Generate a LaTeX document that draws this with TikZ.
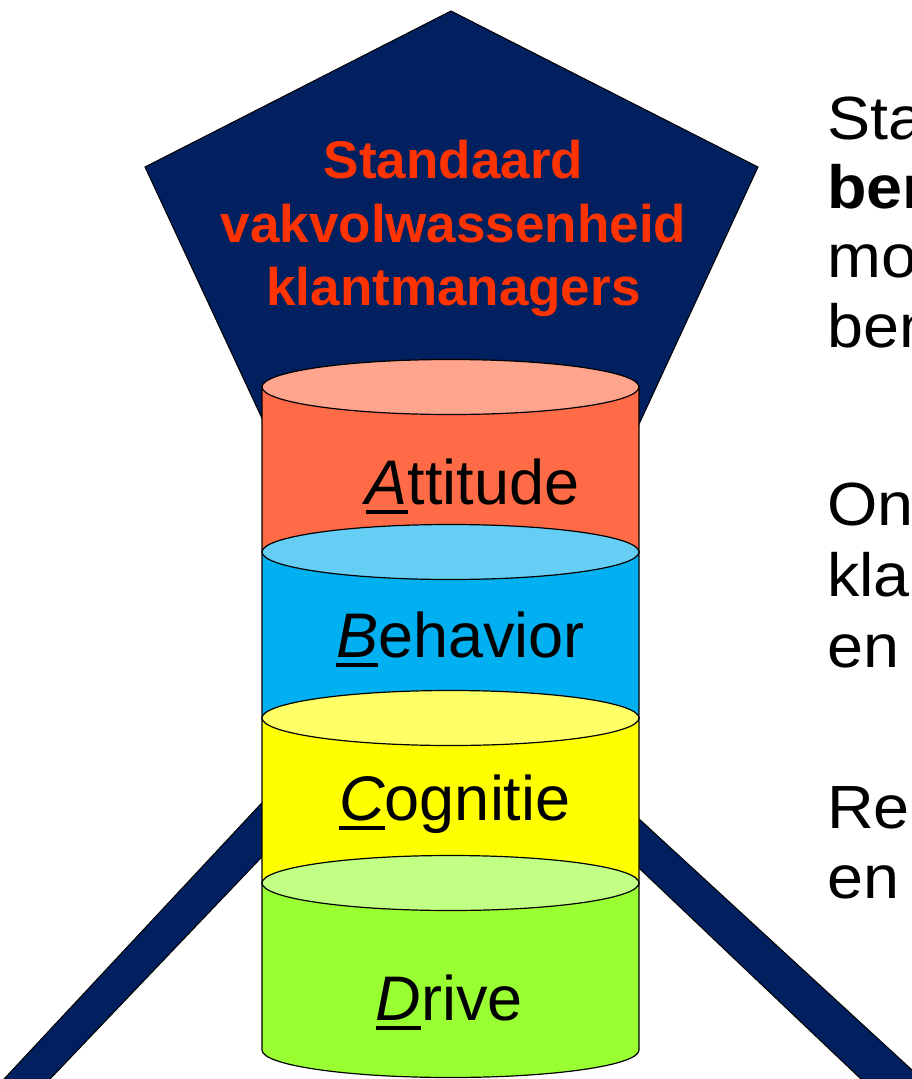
\documentclass[tikz,border=0pt]{standalone}
\usepackage{fontspec}
\setmainfont{Liberation Sans}
\definecolor{navy}{RGB}{0,32,96}
\definecolor{titlered}{RGB}{255,51,0}
\definecolor{orA}{RGB}{255,106,71}
\definecolor{orAtop}{RGB}{255,164,141}
\definecolor{blB}{RGB}{0,176,240}
\definecolor{blBtop}{RGB}{102,206,245}
\definecolor{yeC}{RGB}{255,255,0}
\definecolor{yeCtop}{RGB}{255,255,102}
\definecolor{grD}{RGB}{153,255,51}
\definecolor{grDtop}{RGB}{194,255,133}
\newcommand\firstlet[1]{\setbox0\hbox{\itshape #1}\rlap{\rule[-9.5pt]{\wd0}{3.5pt}}\box0}
\newcommand\cylseg[4]{%
  \filldraw[cyl, fill=#3] (262,#1) -- (262,#2) arc[start angle=180,end angle=0,x radius=188.5,y radius=27.5] -- (639,#1) -- cycle;
  \filldraw[cyl, fill=#4] (450.5,#1) ellipse[x radius=188.5,y radius=27.5];}
\begin{document}
\begin{tikzpicture}[x=1pt,y=-1pt,
  navyshape/.style={fill=navy, draw=black, line width=1pt},
  cyl/.style={draw=black, line width=1.2pt},
  lbl/.style={inner sep=0pt, anchor=base, font=\fontsize{63}{74}\selectfont},
  ttl/.style={inner sep=0pt, anchor=base, text=titlered, font=\fontsize{53}{64}\selectfont\bfseries},
  side/.style={inner sep=0pt, anchor=base west, xscale=1.06, font=\fontsize{61}{69}\selectfont}]
\useasboundingbox (0,0) rectangle (912,1079);
\clip (0,0) rectangle (912,1079);
% pentagon and legs
\filldraw[navyshape] (451,11) -- (758,167) -- (604,500) -- (300,500) -- (145,167) -- cycle;
\filldraw[navyshape] (300,762) -- (-15.6,1100) -- (30,1100) -- (300,817) -- cycle;
\filldraw[navyshape] (600,783) -- (944.6,1100) -- (883,1100) -- (600,831) -- cycle;
% cylinder stack
\cylseg{387}{552}{orA}{orAtop}
\cylseg{552}{718}{blB}{blBtop}
\cylseg{718}{883}{yeC}{yeCtop}
\cylseg{883}{1050}{grD}{grDtop}
% title
\node[ttl] (t1) at (453.5,178) {Standaard};
\node[ttl] (t2) at (453.5,242) {vakvolwassenheid};
\node[ttl] (t3) at (453.5,305) {klantmanagers};
% cylinder labels
\node[lbl] (la) at (472.5,504) {\firstlet{A}ttitude};
\node[lbl] (lb) at (460.5,657) {\firstlet{B}ehavior};
\node[lbl] (lc) at (455,820) {\firstlet{C}ognitie};
\node[lbl] (ld) at (449.5,1020) {\firstlet{D}rive};
% side text
\node[side] (s1) at (827,139) {Sta};
\node[side] (s2) at (827,208) {\bfseries ben};
\node[side] (s3) at (827,277) {mo};
\node[side] (s4) at (827,347) {ben};
\node[side] (s5) at (827,525) {On};
\node[side] (s6) at (827,596) {kla};
\node[side] (s7) at (827,667) {en};
\node[side] (s8) at (827,828) {Re};
\node[side] (s9) at (827,898) {en};
\end{tikzpicture}
\end{document}
